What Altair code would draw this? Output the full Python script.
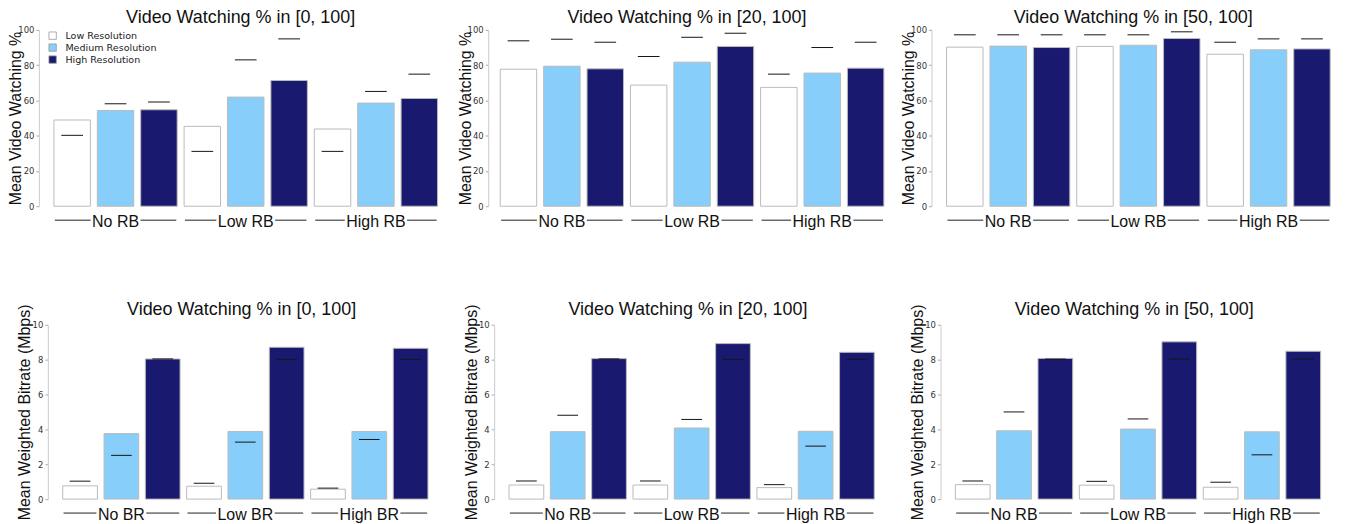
import altair as alt
import pandas as pd

resolutions = ["Low Resolution", "Medium Resolution", "High Resolution"]
res_colors = ["#ffffff", "#87cefa", "#191970"]
rb_groups = ["No RB", "Low RB", "High RB"]
br_groups = ["No BR", "Low BR", "High BR"]
titles = ["Video Watching % in [0, 100]", "Video Watching % in [20, 100]",
          "Video Watching % in [50, 100]"]

# Row 1: mean video watching % (bars) and median markers, order: group x resolution
watch_mean_0 = [48.9, 54.3, 54.7, 45.3, 61.9, 71.3, 43.8, 58.5, 61.1]
watch_med_0 = [40.2, 58.1, 59.1, 31.1, 83.0, 94.9, 31.1, 65.1, 74.9]
watch_mean_20 = [77.7, 79.4, 77.9, 68.7, 81.7, 90.6, 67.4, 75.5, 78.3]
watch_med_20 = [93.8, 94.7, 93.0, 84.9, 95.8, 98.1, 74.9, 90.0, 93.0]
watch_mean_50 = [90.2, 90.8, 90.0, 90.6, 91.3, 95.1, 86.2, 88.7, 89.2]
watch_med_50 = [97.2, 97.2, 97.2, 97.2, 97.2, 98.9, 93.0, 94.9, 94.9]

# Row 2: mean weighted bitrate (Mbps) and median markers
rate_mean_0 = [0.76, 3.76, 8.04, 0.74, 3.88, 8.71, 0.57, 3.88, 8.65]
rate_med_0 = [1.03, 2.51, 8.04, 0.91, 3.27, 8.02, 0.63, 3.42, 8.02]
rate_mean_20 = [0.81, 3.87, 8.06, 0.81, 4.08, 8.92, 0.66, 3.89, 8.42]
rate_med_20 = [1.04, 4.81, 8.04, 1.04, 4.57, 8.02, 0.83, 3.04, 8.02]
rate_mean_50 = [0.83, 3.92, 8.07, 0.80, 4.02, 9.02, 0.68, 3.86, 8.48]
rate_med_50 = [1.04, 5.00, 8.03, 1.02, 4.60, 8.03, 0.97, 2.54, 8.03]

watch_ticks = [0, 20, 40, 60, 80, 100]
rate_ticks = [0, 2, 4, 6, 8, 10]

# Liberation Sans advance widths (per 1000 em) for label width estimation
ADV = {"N": 722, "o": 556, " ": 278, "R": 722, "B": 667, "L": 556, "w": 722,
       "H": 722, "i": 222, "g": 556, "h": 556}


def text_px(s, size=16):
    return sum(ADV.get(c, 556) for c in s) * size / 1000.0


def panel(title, groups, means, meds, ytitle, ydom, yvals, ppu, xdom, height,
          yoff, ext, show_legend, tdx, toff):
    width = round(ppu * (xdom[1] - xdom[0]))
    rows = []
    for g, grp in enumerate(groups):
        for r, res in enumerate(resolutions):
            i = 3 * g + r
            rows.append({"group": grp, "res": res, "pos": i,
                         "mean": means[i], "median": meds[i]})
    df = pd.DataFrame(rows)

    lab = pd.DataFrame({"group": groups, "center": [3 * g + 1 for g in range(3)]})
    segs = []
    for g, grp in enumerate(groups):
        gap = (text_px(grp) / 2 + 1.5) / ppu
        c = 3 * g + 1
        segs.append({"s0": 3 * g - 0.4, "s1": c - gap})
        segs.append({"s0": c + gap, "s1": 3 * g + 2.4})
    segdf = pd.DataFrame(segs)

    xs = alt.Scale(domain=xdom, nice=False, zero=False)
    ys = alt.Scale(domain=ydom, nice=False)
    yaxis = alt.Axis(values=yvals, title=ytitle, titleFont="Liberation Sans",
                     titleFontSize=16, titleFontWeight="normal", titleColor="#111",
                     labelFont="DejaVu Sans", labelFontSize=8.5, labelColor="#333",
                     tickSize=3, tickColor="#aaa", domainColor="#ccc", grid=False,
                     labelPadding=2, offset=yoff, minExtent=ext, maxExtent=ext,
                     titlePadding=0)
    if show_legend:
        leg = alt.Legend(title=None, orient="none", legendX=0, legendY=1,
                         symbolType="square", symbolSize=55,
                         symbolStrokeColor="#999", symbolStrokeWidth=0.8,
                         labelFont="DejaVu Sans", labelFontSize=9.6,
                         labelColor="#222", labelOffset=8, rowPadding=0,
                         padding=0)
    else:
        leg = None

    bars = alt.Chart(df).mark_bar(stroke="#bbbbbb", strokeWidth=1).transform_calculate(
        b0="datum.pos - 0.42", b1="datum.pos + 0.42"
    ).encode(
        x=alt.X("b0:Q", scale=xs, axis=None),
        x2="b1:Q",
        y=alt.Y("mean:Q", scale=ys, axis=yaxis),
        y2=alt.datum(0),
        color=alt.Color("res:N", scale=alt.Scale(domain=resolutions, range=res_colors),
                        legend=leg),
    )
    ticks = alt.Chart(df).mark_rule(color="#151515", strokeWidth=1).transform_calculate(
        t0="datum.pos - 0.25", t1="datum.pos + 0.25"
    ).encode(
        x=alt.X("t0:Q", scale=xs, axis=None),
        x2="t1:Q",
        y=alt.Y("median:Q", scale=ys, axis=yaxis),
    )
    texts = alt.Chart(lab).mark_text(font="Liberation Sans", fontSize=16,
                                      baseline="alphabetic", color="#111").encode(
        x=alt.X("center:Q", scale=xs, axis=None),
        y=alt.value(height + 21),
        text="group:N",
    )
    lines = alt.Chart(segdf).mark_rule(color="#222", strokeWidth=1).encode(
        x=alt.X("s0:Q", scale=xs, axis=None),
        x2="s1:Q",
        y=alt.value(height + 14),
    )
    return alt.layer(bars, ticks, lines, texts).properties(
        width=width, height=height,
        title=alt.TitleParams(text=title, font="Liberation Sans", fontSize=18,
                              fontWeight="normal", color="#111", anchor="middle",
                              baseline="alphabetic", offset=toff, dx=tdx),
    )


TOP_X = [-0.56, 8.6]
BOT_X = [-0.78, 8.6]

panels = [
    panel(titles[0], rb_groups, watch_mean_0, watch_med_0, "Mean Video Watching %",
          [0, 100], watch_ticks, 43.6, TOP_X, 177, 9, 15, True, -6, -15),
    panel(titles[1], rb_groups, watch_mean_20, watch_med_20, "Mean Video Watching %",
          [0, 100], watch_ticks, 43.6, TOP_X, 177, 6, 15, False, -6, -15),
    panel(titles[2], rb_groups, watch_mean_50, watch_med_50, "Mean Video Watching %",
          [0, 100], watch_ticks, 43.6, TOP_X, 177, 9, 15, False, -6, -15),
    panel(titles[0], br_groups, rate_mean_0, rate_med_0, "Mean Weighted Bitrate (Mbps)",
          [0, 10], rate_ticks, 41.5, BOT_X, 175, 0, 15, False, 0, -29),
    panel(titles[1], rb_groups, rate_mean_20, rate_med_20, "Mean Weighted Bitrate (Mbps)",
          [0, 10], rate_ticks, 41.5, BOT_X, 175, 0, 15, False, 0, -29),
    panel(titles[2], rb_groups, rate_mean_50, rate_med_50, "Mean Weighted Bitrate (Mbps)",
          [0, 10], rate_ticks, 41.5, BOT_X, 175, 0, 15, False, 0, -29),
]

chart = alt.concat(
    *panels, columns=3, spacing={"row": 119, "column": 49}, bounds="flush"
).resolve_scale(
    color="independent"
).properties(
    padding={"left": 0, "top": 0, "right": 0, "bottom": 0}
).configure(background="white").configure_view(stroke="transparent", strokeWidth=0)

chart.save("out.html", embed_options={"renderer": "svg", "actions": False})
